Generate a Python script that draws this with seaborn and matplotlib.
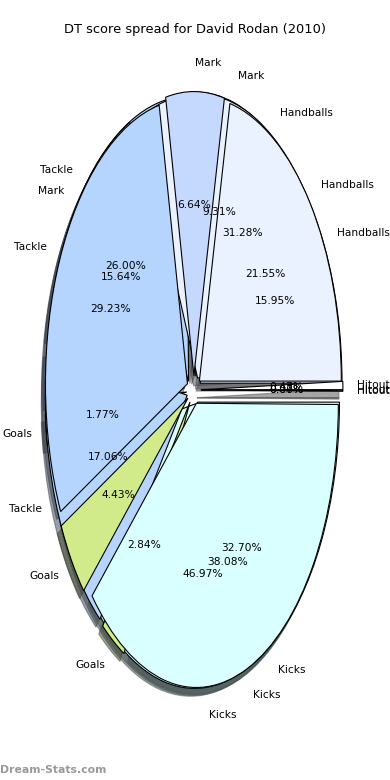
import matplotlib
matplotlib.use('Agg')
import matplotlib.pyplot as plt
import seaborn as sns

categories = ['Handballs', 'Mark', 'Tackle', 'Goals', 'Kicks', 'Hitout']
pie_a = [31.28, 15.64, 17.06, 2.84, 32.70, 0.47]
pie_b = [21.55, 6.64, 29.23, 4.43, 38.08, 0.07]
pie_c = [15.95, 9.31, 26.00, 1.77, 46.97, 0.00]
colors = ['#ebf2ff', '#c5d9ff', '#b5d5ff', '#d1eb8b', '#d9ffff', '#ffffff']

sns.set_style('white')
plt.rcParams['font.family'] = ['DejaVu Sans']
plt.rcParams['text.color'] = 'black'

fig = plt.figure(figsize=(3.9, 7.8), dpi=100)
ax = fig.add_axes([0.042, 0.0445, 0.91, 0.911])

# drawn bottom to top: last pie ends up on top
for values, start in [(pie_c, 0), (pie_a, 1.7), (pie_b, 0)]:
    ax.pie(values, labels=categories, colors=colors, startangle=start,
           explode=[0.05] * len(values), autopct='%.2f%%', shadow=True,
           wedgeprops=dict(edgecolor='black', linewidth=0.8),
           textprops=dict(fontsize=7.7, color='black'))

ax.set_aspect('auto')
ax.set_xlim(-1.25, 1.25)
ax.set_ylim(-1.25, 1.25)
ax.axis('off')

fig.text(0.5, 1 - 30 / 780, 'DT score spread for David Rodan (2010)',
         ha='center', va='center', fontsize=9.4, color='black')
fig.text(0.0, 1 - 770 / 780, 'Dream-Stats.com', ha='left', va='center',
         fontsize=7.8, color='#999999', fontweight='bold')

fig.savefig('out.png', dpi=100)
